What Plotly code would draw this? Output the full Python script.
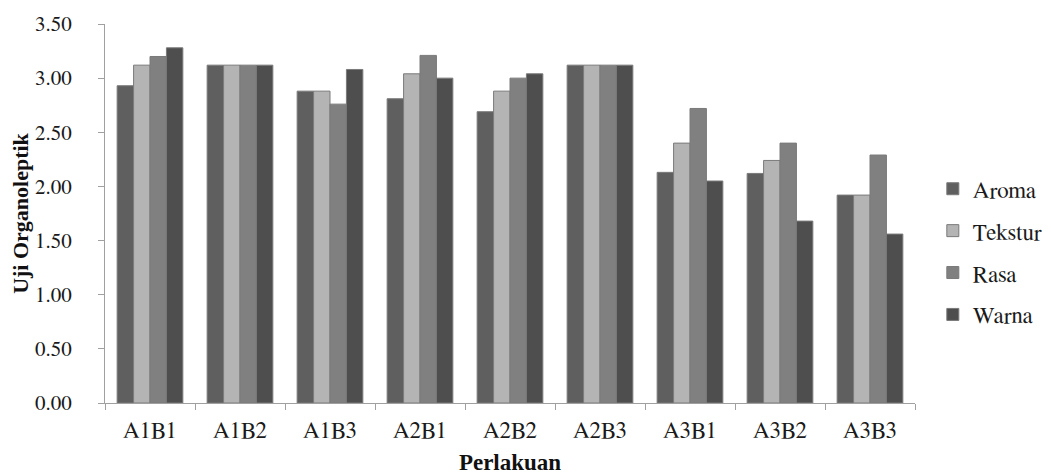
import plotly.graph_objects as go

categories = ["A1B1", "A1B2", "A1B3", "A2B1", "A2B2", "A2B3", "A3B1", "A3B2", "A3B3"]
aroma   = [2.93, 3.12, 2.88, 2.81, 2.69, 3.12, 2.13, 2.12, 1.92]
tekstur = [3.12, 3.12, 2.88, 3.04, 2.88, 3.12, 2.40, 2.24, 1.92]
rasa    = [3.20, 3.12, 2.76, 3.21, 3.00, 3.12, 2.72, 2.40, 2.29]
warna   = [3.28, 3.12, 3.08, 3.00, 3.04, 3.12, 2.05, 1.68, 1.56]
y_ticks = [0, 0.5, 1.0, 1.5, 2.0, 2.5, 3.0, 3.5]

series = [
    ("Aroma", aroma, "#5f5f5f"),
    ("Tekstur", tekstur, "#b4b4b4"),
    ("Rasa", rasa, "#808080"),
    ("Warna", warna, "#4e4e4e"),
]

fig = go.Figure()
for i, (name, vals, col) in enumerate(series):
    fig.add_trace(go.Bar(
        x=categories, y=vals, name=name, legendgroup=f"g{i}",
        marker=dict(color=col, line=dict(color="#7a7a7a", width=1)),
    ))

reg = "FreeSerif"
bold = "Liberation Serif"
txt = "#1a1a1a"
fig.update_layout(
    width=1051, height=475,
    paper_bgcolor="white", plot_bgcolor="white",
    margin=dict(l=97, r=144, t=16, b=80, autoexpand=False),
    barmode="group", bargap=0.27, bargroupgap=0,
    font=dict(family=reg, size=22, color=txt),
    legend=dict(
        x=1.022, xanchor="left", y=0.399, yanchor="middle",
        xref="paper", yref="paper",
        traceorder="grouped", tracegroupgap=9,
        font=dict(family=reg, size=23, color=txt),
        itemwidth=30,
    ),
)
fig.update_xaxes(
    showline=True, linecolor="#a0a0a0", linewidth=1,
    ticks="outside", ticklen=6, tickcolor="#a0a0a0", tickson="boundaries",
    ticklabelstandoff=6,
    tickfont=dict(family=reg, size=23, color=txt),
    title=dict(text="<b>Perlakuan</b>", font=dict(family=bold, size=23, color="#111111"), standoff=12),
    showgrid=False, automargin=False,
)
fig.update_yaxes(
    range=[0, 3.5], tickvals=y_ticks, tickformat=".2f",
    showline=True, linecolor="#a0a0a0", linewidth=1,
    ticks="outside", ticklen=6, tickcolor="#a0a0a0", ticklabelstandoff=22,
    tickfont=dict(family=reg, size=21, color=txt),
    title=dict(text="<b>Uji Organoleptik</b>", font=dict(family=bold, size=22, color="#111111"), standoff=8),
    showgrid=False, zeroline=False, automargin=False,
)
fig.write_html("out.html")
